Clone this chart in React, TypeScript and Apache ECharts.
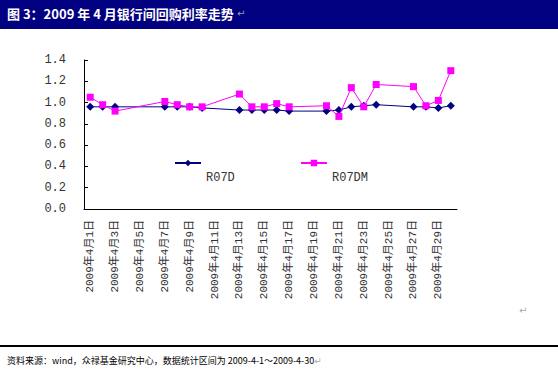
import React, { useEffect, useRef } from "react";
import * as echarts from "echarts";

const days: number[] = [
  1, 2, 3, 4, 5, 6, 7, 8, 9, 10, 11, 12, 13, 14, 15,
  16, 17, 18, 19, 20, 21, 22, 23, 24, 25, 26, 27, 28, 29, 30,
];
const categories: string[] = days.map((d) => `2009年4月${d}日`);

// null = non-trading day (holiday / weekend)
const r07d: (number | null)[] = [
  0.96, 0.96, 0.96, null, null, null, 0.96, 0.96, 0.96, 0.95,
  null, null, 0.93, 0.93, 0.93, 0.93, 0.92, null, null, 0.92,
  0.93, 0.96, 0.97, 0.98, null, null, 0.96, 0.96, 0.95, 0.97,
];
const r07dm: (number | null)[] = [
  1.05, 0.98, 0.92, null, null, null, 1.01, 0.98, 0.96, 0.96,
  null, null, 1.08, 0.96, 0.96, 0.99, 0.96, null, null, 0.97,
  0.87, 1.14, 0.96, 1.17, null, null, 1.15, 0.97, 1.02, 1.30,
];

const seriesNames: string[] = ["R07D", "R07DM"];
const titleText = "图 3：2009 年 4 月银行间回购利率走势";
const footerText =
  "资料来源：wind，众禄基金研究中心，数据统计区间为 2009-4-1～2009-4-30";

const NUM_FONT = "'SimSun', 'Liberation Mono', 'Noto Sans CJK SC', monospace";
const CJK_FONT = "'SimSun', 'Noto Sans CJK SC', sans-serif";

export default function App() {
  const ref = useRef<HTMLDivElement>(null);

  useEffect(() => {
    document.body.style.margin = "0";
    if (!ref.current) return;
    const chart = echarts.init(ref.current, null, { renderer: "svg" });

    const legendCommon = {
      orient: "horizontal" as const,
      padding: 0,
      itemWidth: 26,
      itemHeight: 8,
      itemGap: 0,
      selectedMode: false,
      formatter: "\n\n{name}",
      textStyle: {
        fontFamily: NUM_FONT,
        fontSize: 12,
        color: "#333",
        lineHeight: 15,
      },
    };

    chart.setOption({
      animation: false,
      backgroundColor: "#ffffff",
      grid: { left: 84, right: 101, top: 60, bottom: 167, containLabel: false },
      legend: [
        { ...legendCommon, data: [seriesNames[0]], left: 174, top: 140.5 },
        { ...legendCommon, data: [seriesNames[1]], left: 300, top: 140.5 },
      ],
      xAxis: {
        type: "category",
        data: categories,
        boundaryGap: true,
        axisLine: { lineStyle: { color: "#000", width: 1 } },
        axisTick: { inside: true, length: 4, interval: 1, lineStyle: { color: "#000" } },
        axisLabel: {
          interval: 1,
          rotate: 90,
          margin: 11,
          fontFamily: NUM_FONT,
          fontSize: 11,
          color: "#333",
        },
        splitLine: { show: false },
      },
      yAxis: {
        type: "value",
        min: 0,
        max: 1.4,
        interval: 0.2,
        axisLine: { show: true, lineStyle: { color: "#000", width: 1 } },
        axisTick: { show: true, inside: true, length: 4, lineStyle: { color: "#000" } },
        axisLabel: {
          margin: 18,
          fontFamily: NUM_FONT,
          fontSize: 12,
          color: "#333",
          formatter: (v: number) => v.toFixed(1),
        },
        splitLine: { show: false },
      },
      series: [
        {
          name: seriesNames[0],
          type: "line",
          data: r07d,
          connectNulls: true,
          symbol: "diamond",
          symbolSize: 8,
          showAllSymbol: true,
          itemStyle: { color: "#000080" },
          lineStyle: { color: "#000080", width: 1 },
          z: 2,
        },
        {
          name: seriesNames[1],
          type: "line",
          data: r07dm,
          connectNulls: true,
          symbol: "rect",
          symbolSize: 7,
          showAllSymbol: true,
          itemStyle: { color: "#ff00ff" },
          lineStyle: { color: "#ff00ff", width: 1 },
          z: 3,
        },
      ],
      graphic: [
        {
          type: "rect",
          left: 0,
          top: 0,
          shape: { width: 558, height: 29 },
          style: { fill: "#000080" },
          silent: true,
        },
        {
          type: "text",
          left: 7,
          top: 7,
          style: {
            text: `{t|${titleText}}{r| ↵}`,
            rich: {
              t: { fill: "#ffffff", font: `bold 13px ${CJK_FONT}` },
              r: { fill: "#9a9ab8", font: "10px 'DejaVu Sans'" },
            },
          },
        },
        {
          type: "text",
          left: 519,
          top: 305,
          style: { text: "↵", fill: "#aaaaaa", font: "10px 'DejaVu Sans'" },
        },
        {
          type: "rect",
          left: 0,
          top: 345,
          shape: { width: 558, height: 2 },
          style: { fill: "#000000" },
          silent: true,
        },
        {
          type: "text",
          left: 7,
          top: 356,
          style: {
            text: `{f|${footerText}}{r|↵}`,
            rich: {
              f: { fill: "#000000", font: `9px ${CJK_FONT}` },
              r: { fill: "#aaaaaa", font: "9px 'DejaVu Sans'" },
            },
          },
        },
      ],
    });

    return () => {
      chart.dispose();
    };
  }, []);

  return <div ref={ref} style={{ width: 558, height: 376 }} />;
}
